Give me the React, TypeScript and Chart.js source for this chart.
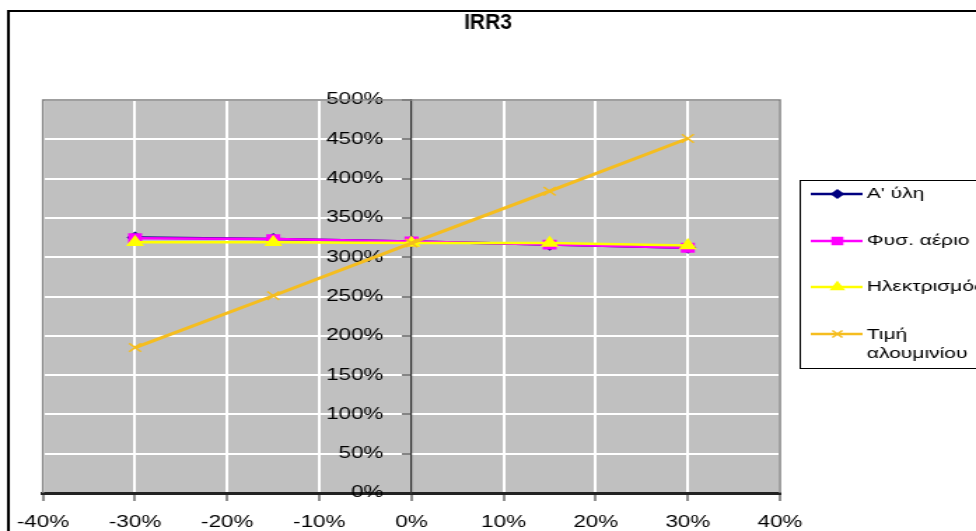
import React, { useEffect, useRef } from 'react';
import { Chart, registerables } from 'chart.js';
import { drawPoint } from 'chart.js/helpers';

Chart.register(...registerables);

// Canvas is drawn narrower and stretched horizontally by CSS, as in the reference.
const W = 697;
const H = 531;

const chartTitle = 'IRR3';
const xValues = [-30, -15, 0, 15, 30];
const seriesNames = ["A' ύλη", 'Φυσ. αέριο', 'Ηλεκτρισμός', 'Τιμή αλουμινίου'];
const aYli = [325, 323, 320, 316, 312];
const fysAerio = [324, 323, 320, 316, 312];
const ilektrismos = [319, 319, 318, 318, 315];
const timiAlouminiou = [185, 251, 318, 384, 451];
const xTickValues = [-40, -30, -20, -10, 0, 10, 20, 30, 40];
const yTickValues = [0, 50, 100, 150, 200, 250, 300, 350, 400, 450, 500];

const seriesValues = [aYli, fysAerio, ilektrismos, timiAlouminiou];
const seriesColors = ['#000080', '#FF00FF', '#FFFF00', '#F5BD1F'];
const seriesStyles = ['rectRot', 'rect', 'triangle', 'crossRot'];
const seriesRadius = [5, 6, 6, 6];
const seriesWidths = [2.5, 2.5, 2.5, 3];

const FONT = 'Liberation Sans, Arial, Helvetica, sans-serif';

const framePlugin = {
  id: 'frame',
  beforeDraw(chart: any) {
    const { ctx, chartArea } = chart;
    ctx.save();
    ctx.fillStyle = '#ffffff';
    ctx.fillRect(0, 0, chart.width, chart.height);
    ctx.strokeStyle = '#000000';
    ctx.lineWidth = 2;
    ctx.beginPath();
    ctx.moveTo(6, H + 10);
    ctx.lineTo(6, 11);
    ctx.lineTo(W + 10, 11);
    ctx.stroke();
    ctx.fillStyle = '#C0C0C0';
    ctx.fillRect(chartArea.left, chartArea.top, chartArea.right - chartArea.left, chartArea.bottom - chartArea.top);
    // title
    ctx.fillStyle = '#000000';
    ctx.font = `bold 22px ${FONT}`;
    ctx.textAlign = 'center';
    ctx.textBaseline = 'middle';
    ctx.translate(W / 2, 23);
    ctx.scale(0.68, 1);
    ctx.fillText(chartTitle, 0, 0);
    ctx.restore();
  },
  beforeDatasetsDraw(chart: any) {
    const { ctx, chartArea } = chart;
    ctx.save();
    ctx.strokeStyle = '#808080';
    ctx.lineWidth = 1.5;
    ctx.beginPath();
    ctx.moveTo(chartArea.left, chartArea.bottom);
    ctx.lineTo(chartArea.left, chartArea.top);
    ctx.lineTo(chartArea.right, chartArea.top);
    ctx.lineTo(chartArea.right, chartArea.bottom);
    ctx.stroke();
    ctx.restore();
  },
};

const legendPlugin = {
  id: 'excelLegend',
  afterDraw(chart: any) {
    const { ctx } = chart;
    const bx = 571;
    const by = 180;
    const bh = 188;
    ctx.save();
    ctx.fillStyle = '#ffffff';
    ctx.fillRect(bx, by, W - bx + 20, bh);
    ctx.strokeStyle = '#000000';
    ctx.lineWidth = 1;
    ctx.strokeRect(bx + 0.5, by + 0.5, W, bh);
    const rows = [194, 241, 287, 334];
    chart.data.datasets.forEach((ds: any, i: number) => {
      const y = rows[i];
      ctx.strokeStyle = ds.borderColor;
      ctx.lineWidth = 2.5;
      ctx.beginPath();
      ctx.moveTo(579, y);
      ctx.lineTo(616, y);
      ctx.stroke();
      ctx.fillStyle = ds.borderColor;
      ctx.strokeStyle = ds.borderColor;
      ctx.lineWidth = 1.5;
      drawPoint(ctx, { pointStyle: ds.pointStyle, radius: ds.pointRadius - 1, rotation: 0, borderWidth: 1.5 }, 598, y);
      ctx.fillStyle = '#000000';
      ctx.font = `15px ${FONT}`;
      ctx.textAlign = 'left';
      ctx.textBaseline = 'middle';
      const words = String(ds.label).split(' ');
      if (i === 3 && words.length > 1) {
        ctx.fillText(words[0], 619, y + 1);
        ctx.fillText(words.slice(1).join(' '), 619, y + 20);
      } else {
        ctx.fillText(ds.label, 619, y);
      }
    });
    ctx.restore();
  },
};

export default function App() {
  const canvasRef = useRef<HTMLCanvasElement | null>(null);

  useEffect(() => {
    if (!canvasRef.current) return;
    const datasets = seriesNames.map((name, i) => ({
      label: name,
      data: xValues.map((x, j) => ({ x, y: seriesValues[i][j] })),
      showLine: true,
      borderColor: seriesColors[i],
      backgroundColor: seriesColors[i],
      pointBackgroundColor: seriesColors[i],
      pointBorderColor: seriesColors[i],
      borderWidth: seriesWidths[i],
      pointBorderWidth: 1.5,
      pointStyle: seriesStyles[i],
      pointRadius: seriesRadius[i],
      order: 4 - i,
    }));

    const chart = new Chart(canvasRef.current, {
      type: 'scatter',
      data: { datasets },
      options: {
        responsive: false,
        devicePixelRatio: 1,
        animation: false,
        layout: { padding: { top: 100, left: 29, right: 140, bottom: 0 } },
        plugins: {
          legend: { display: false },
          tooltip: { enabled: false },
          title: { display: false },
        },
        scales: {
          x: {
            type: 'linear',
            position: 'bottom',
            min: -40,
            max: 40,
            afterBuildTicks: (s: any) => {
              s.ticks = xTickValues.map((v) => ({ value: v }));
            },
            afterFit: (s: any) => {
              s.height = 38;
            },
            ticks: {
              callback: (v: any) => `${v}%`,
              color: '#000000',
              font: { family: FONT, size: 16 },
              padding: 12,
              maxRotation: 0,
              autoSkip: false,
            },
            grid: {
              color: (c: any) => (c.tick && c.tick.value === 0 ? 'rgba(0,0,0,0)' : '#ffffff'),
              lineWidth: 2,
              tickColor: '#222222',
              tickLength: 8,
              tickWidth: 1,
            },
            border: { color: '#222222', width: 3 },
          },
          y: {
            type: 'linear',
            position: 'center',
            min: 0,
            max: 500,
            afterBuildTicks: (s: any) => {
              s.ticks = yTickValues.map((v) => ({ value: v }));
            },
            ticks: {
              callback: (v: any) => `${v}%\u2002`,
              color: '#000000',
              font: { family: FONT, size: 16 },
              padding: 6,
            },
            grid: {
              color: (c: any) => (c.tick && c.tick.value === 0 ? 'rgba(0,0,0,0)' : '#ffffff'),
              lineWidth: 2,
              tickColor: '#333333',
              tickLength: 6,
              tickWidth: 1.2,
            },
            border: { color: '#333333', width: 1.2 },
          },
        },
      } as any,
      plugins: [framePlugin, legendPlugin],
    });
    return () => chart.destroy();
  }, []);

  return (
    <div style={{ position: 'fixed', left: 0, top: 0, width: 976, height: 531, overflow: 'hidden', background: '#fff' }}>
      <canvas ref={canvasRef} width={W} height={H} style={{ width: '976px', height: '531px', display: 'block' }} />
    </div>
  );
}
